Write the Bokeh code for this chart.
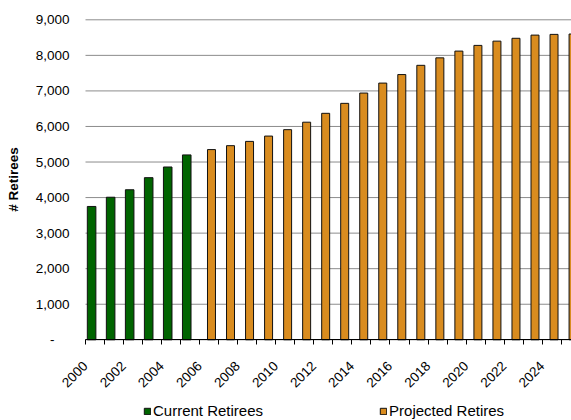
from math import pi

from bokeh.embed import file_html
from bokeh.models import (ColumnDataSource, FixedTicker, Legend, LegendItem,
                          NumeralTickFormatter)
from bokeh.plotting import figure
from bokeh.resources import INLINE
from bokeh.transform import dodge

# Retiree counts per year: actuals through 2005, projections afterwards
current_years = [2000, 2001, 2002, 2003, 2004, 2005]
current_retirees = [3750, 4010, 4220, 4560, 4860, 5200]

projected_years = [2006, 2007, 2008, 2009, 2010, 2011, 2012, 2013, 2014, 2015,
                   2016, 2017, 2018, 2019, 2020, 2021, 2022, 2023, 2024, 2025]
projected_retirees = [5350, 5460, 5580, 5730, 5910, 6120, 6370, 6650, 6940, 7220,
                      7460, 7720, 7930, 8120, 8280, 8400, 8480, 8570, 8590, 8600]

all_years = current_years + projected_years
label_years = [y for y in all_years if y % 2 == 0]
y_ticks = [0, 1000, 2000, 3000, 4000, 5000, 6000, 7000, 8000, 9000]

FONT = "Liberation Sans"
GREEN = "#006400"
ORANGE = "#D98C1F"
GRID = "#8c8c8c"

src_current = ColumnDataSource(dict(year=current_years, retirees=current_retirees))
src_projected = ColumnDataSource(dict(year=projected_years, retirees=projected_retirees))

# The frame covers the whole canvas; both axes are pinned inside it so that the
# rotated year labels, the y labels and the legend all stay visible.
X_START, X_END = 1995.533, 2025.538
Y_START, Y_END = -2270, 9543

p = figure(width=571, height=420, output_backend="svg", toolbar_location=None,
           x_range=(X_START, X_END), y_range=(Y_START, Y_END),
           min_border=0, min_border_left=0, min_border_right=0,
           min_border_top=0, min_border_bottom=0, outline_line_color=None)

p.xgrid.grid_line_color = None
p.ygrid.grid_line_color = None

# horizontal gridlines across the plotting area only
p.segment(x0=all_years[0], x1=X_END, y0=y_ticks, y1=y_ticks,
          line_color=GRID, line_width=1)

# each year occupies one unit slot [year, year + 1); the two series sit side by side
r_cur = p.vbar(x=dodge("year", 0.32, range=p.x_range), top="retirees", width=0.45,
               source=src_current, fill_color=GREEN, line_color="#111111", line_width=1)
r_proj = p.vbar(x=dodge("year", 0.62, range=p.x_range), top="retirees", width=0.42,
                source=src_projected, fill_color=ORANGE, line_color="#111111", line_width=1)

# x axis: tick marks on slot boundaries, a label on every other year
xa = p.xaxis[0]
xa.fixed_location = 0
xa.bounds = (all_years[0], X_END)
xa.ticker = FixedTicker(ticks=label_years, minor_ticks=all_years)
xa.major_label_overrides = {y: str(y) for y in label_years}
xa.major_tick_in = 0
xa.major_tick_out = 0
xa.minor_tick_in = 0
xa.minor_tick_out = 5
xa.minor_tick_line_color = "black"
xa.axis_line_color = "black"
xa.major_label_orientation = pi / 4
xa.major_label_standoff = 19
xa.major_label_text_font = FONT
xa.major_label_text_font_size = "13.5px"
xa.major_label_text_color = "black"

# y axis: accounting-style thousands with a dash for zero
ya = p.yaxis[0]
ya.fixed_location = all_years[0]
ya.bounds = (y_ticks[0], y_ticks[-1])
ya.ticker = FixedTicker(ticks=y_ticks)
ya.formatter = NumeralTickFormatter(format="0,0")
ya.major_label_overrides = {0: "-\u2007\u2007"}
ya.axis_line_color = None
ya.major_tick_in = 0
ya.major_tick_out = 0
ya.minor_tick_line_color = None
ya.major_label_standoff = 16
ya.major_label_text_font = FONT
ya.major_label_text_font_size = "13.5px"
ya.major_label_text_color = "black"
ya.axis_label = "# Retirees"
ya.axis_label_text_font = FONT
ya.axis_label_text_font_size = "13.5px"
ya.axis_label_text_font_style = "bold"
ya.axis_label_text_color = "black"
ya.axis_label_standoff = 12

legend = Legend(items=[LegendItem(label="Current Retirees", renderers=[r_cur]),
                       LegendItem(label="Projected Retires", renderers=[r_proj])],
                orientation="horizontal", location=(143, 1), spacing=116,
                padding=0, margin=0, glyph_width=8, glyph_height=8,
                label_standoff=2, label_height=8,
                label_text_font=FONT, label_text_font_size="15px",
                label_text_color="black",
                border_line_alpha=0, background_fill_alpha=0)
p.add_layout(legend)

open("out.html", "w").write(file_html(p, INLINE))
